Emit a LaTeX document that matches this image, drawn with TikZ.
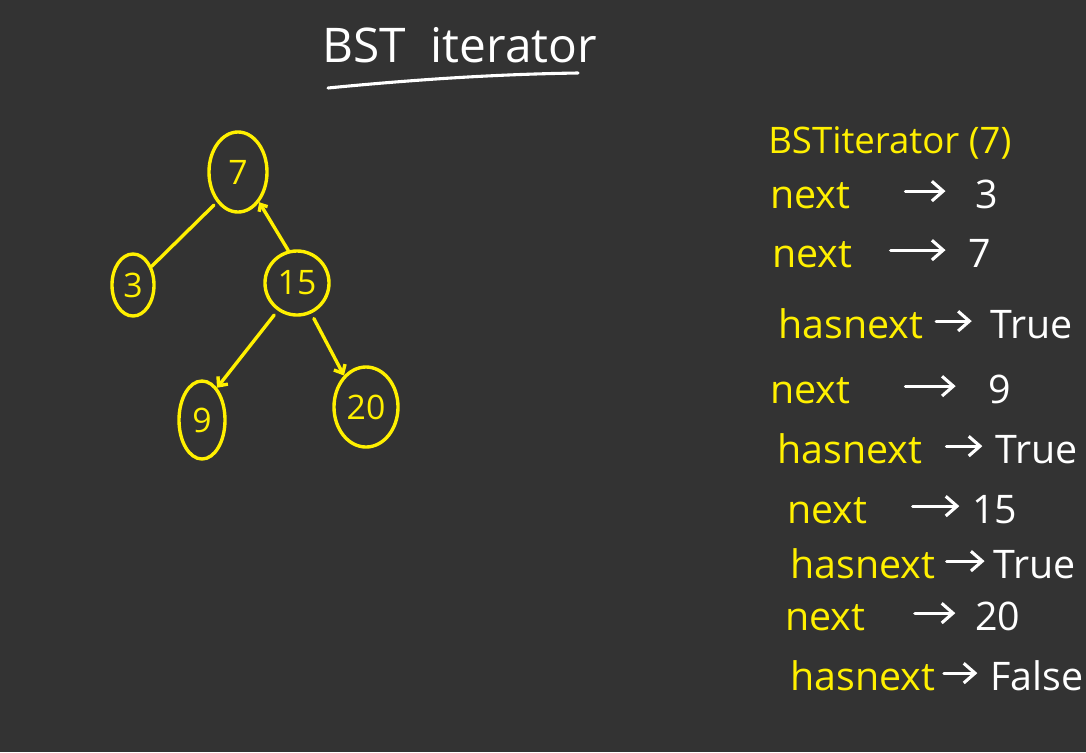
\documentclass[tikz,border=0pt]{standalone}
\usepackage{fontspec}
\setmainfont{Open Sans}
\usetikzlibrary{shapes, arrows, arrows.meta, positioning}
\definecolor{board}{RGB}{51,51,51}
\definecolor{chalk}{RGB}{255,240,0}

\begin{document}
\begin{tikzpicture}[x=0.025cm, y=-0.025cm, line cap=round,
		bst/.style={ellipse, draw=chalk, line width=2.4pt, text=chalk, inner sep=0pt, font=\fontsize{24}{26}\selectfont},
		link/.style={chalk, line width=2.4pt},
		call/.style={text=chalk, anchor=base west, inner sep=0pt, font=\fontsize{28}{30}\selectfont},
		res/.style={text=white, anchor=base west, inner sep=0pt, font=\fontsize{28}{30}\selectfont},
		arr/.style={white, line width=2.2pt, -{Straight Barb[length=8pt, width=14pt]}}]
		\fill[board] (0,0) rectangle (1086,752);
		\node[text=white, anchor=base west, inner sep=0pt, font=\fontsize{34}{36}\selectfont] (title) at (322,62) {BST\ \ iterator};
		\draw[white, line width=2.2pt] (328,88) .. controls (430,78) and (510,74) .. (578,73);
		\node[bst, minimum width=1.45cm, minimum height=2cm] (n7) at (238,172) {7};
		\node[bst, minimum width=1.05cm, minimum height=1.55cm] (n3) at (133,285) {3};
		\node[bst, minimum width=1.6cm, minimum height=1.6cm] (n15) at (297,283) {15};
		\node[bst, minimum width=1.15cm, minimum height=1.95cm] (n9) at (202,420) {9};
		\node[bst, minimum width=1.6cm, minimum height=2cm] (n20) at (366,407) {20};
		\draw[link, shorten <=3pt] (n7.235) -- (n3.45);
		\draw[link, {Straight Barb[length=4pt, width=7pt]}-] (n7.-55) -- (n15.105);
		\draw[link, -{Straight Barb[length=5pt, width=9pt]}, shorten <=4pt] (n15.235) -- (n9.65);
		\draw[link, -{Straight Barb[length=5pt, width=9pt]}, shorten <=4pt] (n15.-65) -- (n20.125);
		\node[call, font=\fontsize{26}{28}\selectfont] (ctor) at (768,153) {BSTiterator (7)};
		\node[call] (k1) at (770,208) {next};
		\node[res] (v1) at (975,208) {3};
		\node[call] (k2) at (772,267) {next};
		\node[res] (v2) at (968,267) {7};
		\node[call] (k3) at (778,338) {hasnext};
		\node[res] (v3) at (990,338) {True};
		\node[call] (k4) at (770,403) {next};
		\node[res] (v4) at (988,403) {9};
		\node[call] (k5) at (777,463) {hasnext};
		\node[res] (v5) at (995,463) {True};
		\node[call] (k6) at (787,523) {next};
		\node[res] (v6) at (972,523) {15};
		\node[call] (k7) at (790,578) {hasnext};
		\node[res] (v7) at (993,578) {True};
		\node[call] (k8) at (785,630) {next};
		\node[res] (v8) at (975,630) {20};
		\node[call] (k9) at (790,690) {hasnext};
		\node[res] (v9) at (990,690) {False};
		\foreach \i/\gl/\gr in {1/39/21, 2/27/16, 3/9/13, 4/39/23, 5/17/9, 6/32/9, 7/8/6, 8/35/14, 9/6/9}
			\draw[arr, shorten <=\gl pt, shorten >=\gr pt] ([yshift=12pt]k\i.base east) -- ([yshift=12pt]v\i.base west);
	\end{tikzpicture}
\end{document}
